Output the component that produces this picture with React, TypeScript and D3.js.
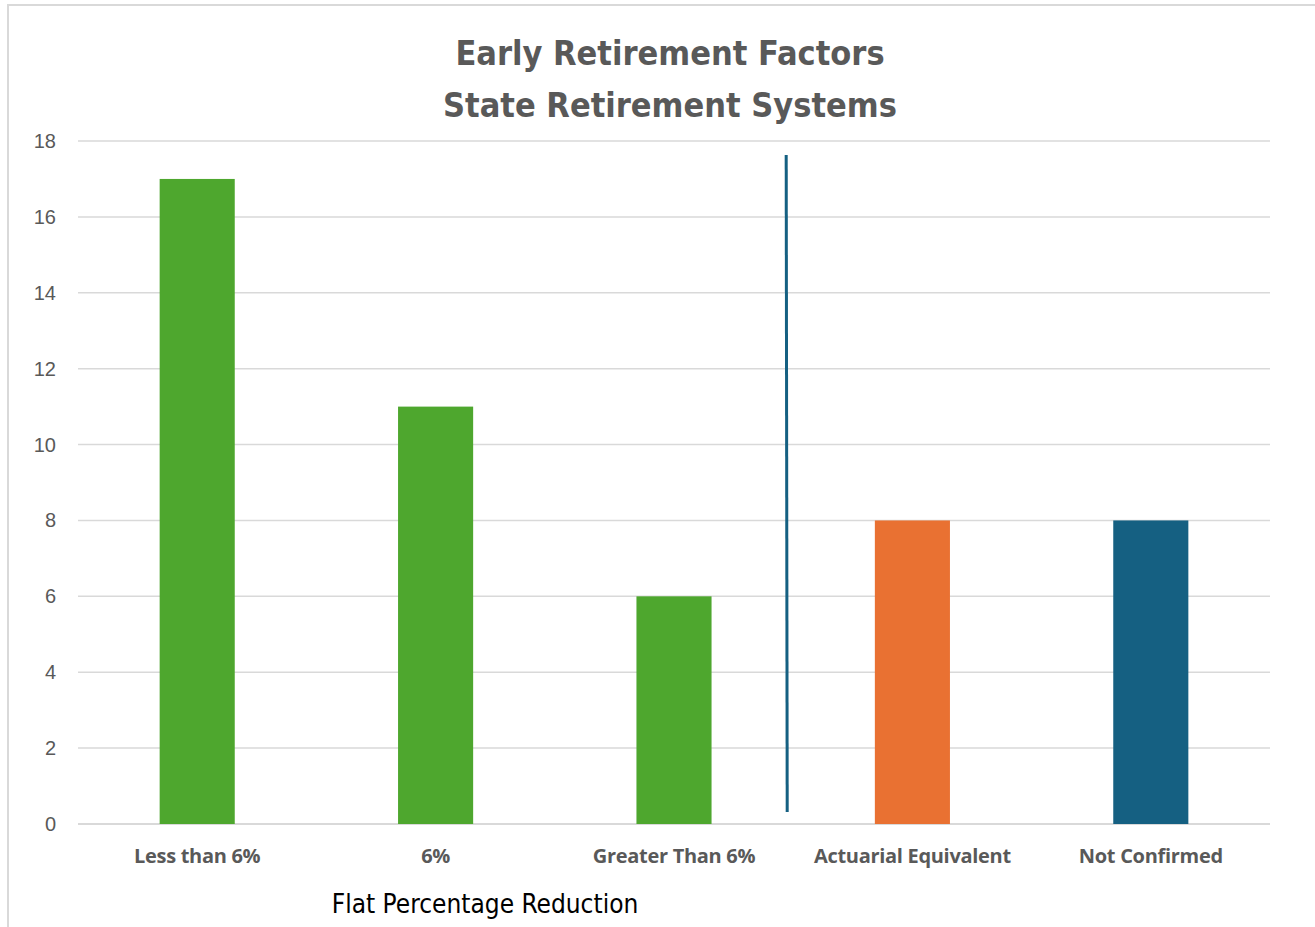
import React from "react";
import * as d3 from "d3";

const categories = ["Less than 6%", "6%", "Greater Than 6%", "Actuarial Equivalent", "Not Confirmed"];
const values = [17, 11, 6, 8, 8];
const barColors = ["#4EA72E", "#4EA72E", "#4EA72E", "#E97132", "#156082"];
const yTicks = [0, 2, 4, 6, 8, 10, 12, 14, 16, 18];
const titleLines = ["Early Retirement Factors", "State Retirement Systems"];
const xAxisTitle = "Flat Percentage Reduction";

const W = 1315;
const H = 927;
const plot = { left: 78, right: 1270, top: 141, bottom: 824 };

export default function App() {
  const x = d3
    .scaleBand<string>()
    .domain(categories)
    .range([plot.left, plot.right])
    .paddingInner(0.685)
    .paddingOuter(0.3425);
  const y = d3.scaleLinear().domain([0, 18]).range([plot.bottom, plot.top]);
  const narrow = "'Liberation Sans Narrow', 'Arial Narrow', 'DejaVu Sans Condensed', sans-serif";
  const dividerX = (x("Greater Than 6%")! + x.bandwidth() + x("Actuarial Equivalent")!) / 2 - 7;

  return (
    <svg
      width={W}
      height={H}
      style={{ position: "absolute", left: 0, top: 0, background: "#fff" }}
    >
      <rect x={8} y={5} width={W + 10} height={H + 10} fill="#fff" stroke="#d9d9d9" strokeWidth={2} />
      {titleLines.map((t, i) => (
        <text
          key={t}
          x={670}
          y={65 + i * 52}
          textAnchor="middle"
          fontFamily={narrow}
          fontWeight="bold"
          fontSize={34}
          fill="#595959"
        >
          {t}
        </text>
      ))}
      {yTicks.map((t) => (
        <g key={t}>
          <line
            x1={plot.left}
            x2={plot.right}
            y1={y(t)}
            y2={y(t)}
            stroke="#d9d9d9"
            strokeWidth={t === 0 ? 2 : 1.5}
          />
          <text
            x={56}
            y={y(t)}
            dy="0.35em"
            textAnchor="end"
            fontFamily="'Liberation Sans', Arial, sans-serif"
            fontSize={20}
            fill="#595959"
          >
            {t}
          </text>
        </g>
      ))}
      {categories.map((c, i) => (
        <rect
          key={c}
          x={x(c)}
          y={y(values[i])}
          width={x.bandwidth()}
          height={y(0) - y(values[i])}
          fill={barColors[i]}
        />
      ))}
      <line x1={dividerX} x2={dividerX + 1} y1={155} y2={812} stroke="#156082" strokeWidth={3} />
      {categories.map((c) => (
        <text
          key={c}
          x={x(c)! + x.bandwidth() / 2}
          y={863}
          textAnchor="middle"
          fontFamily="'Open Sans', sans-serif"
          fontWeight="bold"
          fontSize={20}
          letterSpacing={-0.3}
          fill="#595959"
        >
          {c}
        </text>
      ))}
      <text
        x={485}
        y={913}
        textAnchor="middle"
        fontFamily={narrow}
        fontSize={26}
        fill="#000"
      >
        {xAxisTitle}
      </text>
    </svg>
  );
}
